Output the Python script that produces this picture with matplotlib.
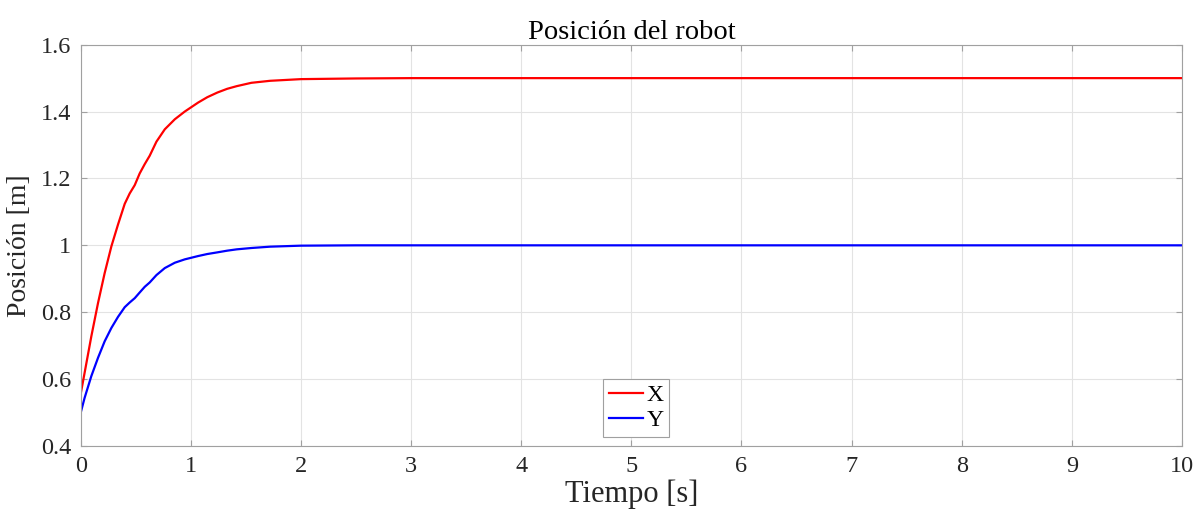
import matplotlib.pyplot as plt

# Posición del robot: respuesta de X e Y en el tiempo
tiempo = [0.0, 0.036, 0.097, 0.158, 0.218, 0.279, 0.339, 0.4, 0.445, 0.491,
          0.536, 0.582, 0.627, 0.688, 0.764, 0.855, 0.945, 1.067, 1.15, 1.242,
          1.33, 1.417, 1.55, 1.72, 2.0, 2.5, 3.0, 4.0, 5.0, 6.0, 7.0, 8.0,
          9.0, 10.0]
pos_x = [0.555, 0.619, 0.728, 0.828, 0.917, 0.997, 1.062, 1.124, 1.155, 1.18,
         1.215, 1.243, 1.268, 1.31, 1.347, 1.377, 1.4, 1.427, 1.443, 1.457,
         1.468, 1.476, 1.486, 1.492, 1.497, 1.499, 1.5, 1.5, 1.5, 1.5, 1.5, 1.5,
         1.5, 1.5]
pos_y = [0.499, 0.544, 0.609, 0.664, 0.713, 0.753, 0.786, 0.815, 0.829, 0.842,
         0.859, 0.876, 0.889, 0.911, 0.932, 0.948, 0.958, 0.968, 0.974, 0.979,
         0.984, 0.988, 0.992, 0.996, 0.999, 1.0, 1.0, 1.0, 1.0, 1.0, 1.0, 1.0,
         1.0, 1.0]

plt.rcParams["font.family"] = ["Liberation Serif", "DejaVu Serif"]

fig = plt.figure(figsize=(12.02, 5.19), dpi=100)
ax = fig.add_axes([0.0671, 0.1407, 0.9163, 0.7732])

ax.plot(tiempo, pos_x, color="#ff0000", lw=1.6, label="X")
ax.plot(tiempo, pos_y, color="#0000ff", lw=1.6, label="Y")

ax.set_xlim(0, 10)
ax.set_ylim(0.4, 1.6)
ax.set_xticks(range(0, 11))
ax.set_yticks([0.4, 0.6, 0.8, 1.0, 1.2, 1.4, 1.6])
ax.set_yticklabels(["0.4", "0.6", "0.8", "1", "1.2", "1.4", "1.6"])

ax.grid(True, color="#e3e3e3", lw=0.8)
ax.set_axisbelow(True)
for s in ax.spines.values():
    s.set_color("#a0a0a0")
    s.set_linewidth(0.8)
ax.tick_params(direction="in", length=4, width=0.8, color="#a0a0a0",
               labelsize=17.5, labelcolor="#262626", pad=7, top=True, right=True)

ax.set_xlabel("Tiempo [s]", fontsize=22, color="#262626", labelpad=2)
ax.set_ylabel("Posición [m]", fontsize=20, color="#262626", labelpad=6)
ax.set_title("Posición del robot", fontsize=20.5, color="#000000", pad=4)

leg = ax.legend(loc="lower left", bbox_to_anchor=(0.474, 0.022), fontsize=17,
                fancybox=False, edgecolor="#a0a0a0", framealpha=1,
                handlelength=1.45, handletextpad=0.15, borderpad=0.25,
                labelspacing=0.15, borderaxespad=0)
leg.get_frame().set_linewidth(0.8)

fig.savefig("out.png", dpi=100)
